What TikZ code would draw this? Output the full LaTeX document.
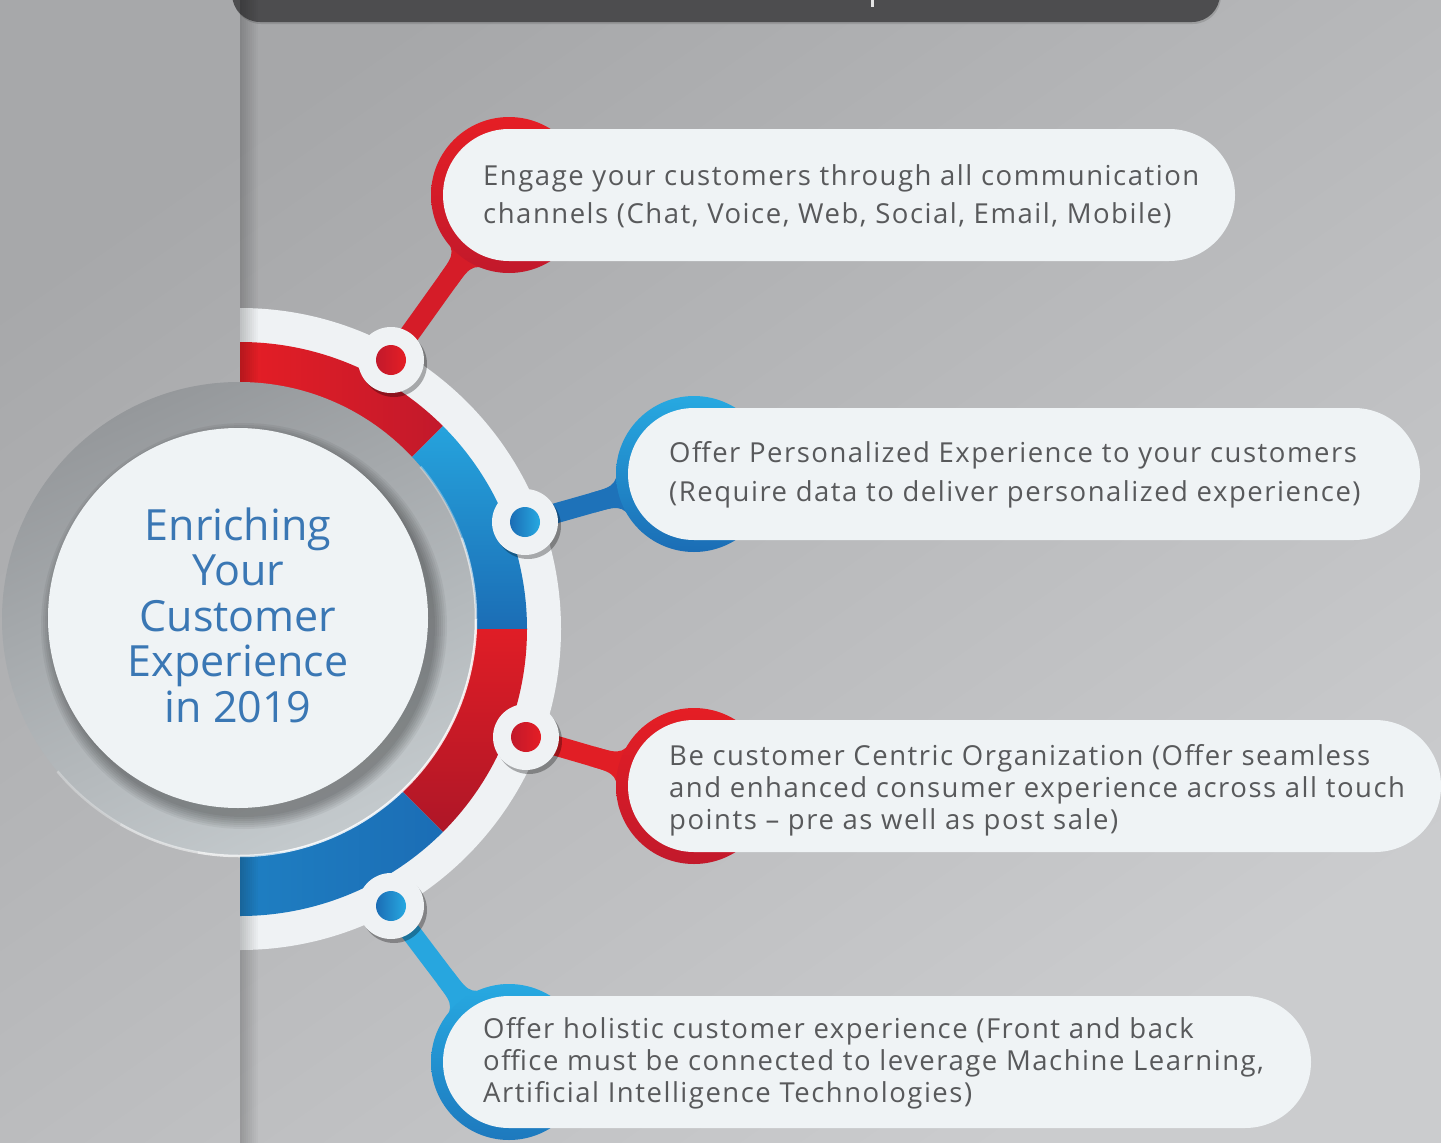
\documentclass[tikz,border=0pt]{standalone}
\usepackage{fontspec}
\setmainfont{Open Sans}
\newfontfamily\pillfont[LetterSpace=5.5]{Open Sans}
\usetikzlibrary{calc,shadows}

\definecolor{bgA}{HTML}{A6A7A9}
\definecolor{bgB}{HTML}{CBCCCE}
\definecolor{barcol}{HTML}{4D4D4F}
\definecolor{ringwhite}{HTML}{EFF2F4}
\definecolor{pillwhite}{HTML}{EFF3F5}
\definecolor{textgray}{HTML}{58595B}
\definecolor{titleblue}{HTML}{3A77B4}
\definecolor{redLight}{HTML}{E51E25}
\definecolor{redDark}{HTML}{C2192B}
\definecolor{redMid}{HTML}{D51C28}
\definecolor{blueLight}{HTML}{27A9E1}
\definecolor{blueDark}{HTML}{1B6DB5}
\definecolor{blueMid}{HTML}{1E72B9}
\definecolor{discDark}{HTML}{95989B}
\definecolor{discLight}{HTML}{C4CACD}
\definecolor{discFace}{HTML}{EFF3F5}

% thick arm from a dot to a coloured cap, with concave necks where it meets the cap
\newcommand\armlink[3]{%
  \draw[#3, line width=20pt] (#1) -- (#2);
  \fill[#3] ($(#1)!106pt!(#2)!10pt!90:(#2)$) .. controls ($(#1)!77pt!(#2)!10pt!90:(#2)$) .. ($(#1)!78pt!32:(#2)$) -- (#1) -- cycle;
  \fill[#3] ($(#1)!106pt!(#2)!10pt!-90:(#2)$) .. controls ($(#1)!77pt!(#2)!10pt!-90:(#2)$) .. ($(#1)!78pt!-32:(#2)$) -- (#1) -- cycle;
}

\begin{document}
\begin{tikzpicture}[x=1pt,y=1pt,
  pill/.style={fill=pillwhite, rounded corners=66},
  pilltext/.style={anchor=west, align=left, inner sep=0pt, text=textgray},
  holder/.style={fill=ringwhite, drop shadow={shadow xshift=3pt, shadow yshift=-4pt, opacity=0.3, fill=black}},
]
\useasboundingbox (0,0) rectangle (1441,-1143);

% backdrop
\shade[top color=bgA, bottom color=bgB, shading angle=35] (0,0) rectangle (1441,-1143);
\fill[white, fill opacity=0.02] (0,0) rectangle (240,-1143);

% header bar
\fill[black, fill opacity=0.12, rounded corners=28] (233,40) rectangle (1221,-24);
\fill[barcol, rounded corners=28] (232,40) rectangle (1220,-22);
\fill[white!85!barcol] (870.5,0) rectangle (873.5,-7);

% segmented ring
\coordinate (C) at (240,-629);
\begin{scope}
  \clip (240,0) rectangle (1441,-1143);
  \fill[ringwhite] (C) circle (321);
  \shade[left color=redLight, right color=redDark] (C) -- ++(90:287) arc[start angle=90, end angle=45, radius=287] -- cycle;
  \shade[top color=blueLight!90!blueDark, bottom color=blueDark] (C) -- ++(45:287) arc[start angle=45, end angle=0, radius=287] -- cycle;
  \shade[top color=redLight!85!redDark, bottom color=redDark!90!black] (C) -- ++(0:287) arc[start angle=0, end angle=-45, radius=287] -- cycle;
  \shade[left color=blueDark!70!blueLight, right color=blueDark] (C) -- ++(-45:287) arc[start angle=-45, end angle=-90, radius=287] -- cycle;
\end{scope}

% anchor points
\coordinate (d1) at (391,-360);
\coordinate (d2) at (525,-522);
\coordinate (d3) at (526,-737);
\coordinate (d4) at (391,-906);
\coordinate (b1) at (509,-195);
\coordinate (b2) at (694,-474);
\coordinate (b3) at (694,-786);
\coordinate (b4) at (509,-1062);

% arms
\armlink{b1}{d1}{redMid}
\armlink{b2}{d2}{blueMid}
\armlink{b3}{d3}{redLight!90!redDark}
\armlink{b4}{d4}{blueLight!95!blueDark}

% caps
\shade[top color=redLight, bottom color=redDark] (b1) circle (78);
\shade[top color=blueLight, bottom color=blueDark] (b2) circle (78);
\shade[top color=redLight, bottom color=redDark] (b3) circle (78);
\shade[top color=blueLight, bottom color=blueDark!80!blueLight] (b4) circle (78);

% text pills
\fill[pill] (443,-129) rectangle (1235,-261);
\fill[pill] (628,-408) rectangle (1420,-540);
\fill[pill] (628,-720) rectangle (1441,-852);
\fill[pill] (443,-996) rectangle (1311,-1128);

\node[pilltext, font=\pillfont\fontsize{27.5}{38}\selectfont] (t1) at (483,-196)
  {Engage your customers through all communication\\channels (Chat, Voice, Web, Social, Email, Mobile)};
\node[pilltext, font=\pillfont\fontsize{27.5}{39}\selectfont] (t2) at (669,-475)
  {Offer Personalized Experience to your customers\\(Require data to deliver personalized experience)};
\node[pilltext, font=\pillfont\fontsize{27.5}{32}\selectfont] (t3) at (669,-790)
  {Be customer Centric Organization (Offer seamless\\and enhanced consumer experience across all touch\\points – pre as well as post sale)};
\node[pilltext, font=\pillfont\fontsize{27.5}{32}\selectfont] (t4) at (483,-1063)
  {Offer holistic customer experience (Front and back\\office must be connected to leverage Machine Learning,\\Artificial Intelligence Technologies)};

% dot holders on the ring
\foreach \p in {d1,d2,d3,d4} \fill[holder] (\p) circle (33);
\shade[left color=redDark, right color=redLight] (d1) circle (15);
\shade[left color=blueDark, right color=blueLight] (d2) circle (15);
\shade[left color=redDark, right color=redLight] (d3) circle (15);
\shade[left color=blueDark, right color=blueLight] (d4) circle (15);

% fold shadow along the panel edge
\foreach \i in {0,...,8}
  \fill[black, fill opacity={0.2*(1-\i/9)}] (240+2*\i,0) rectangle (242+2*\i,-1143);

% central disc
\coordinate (G) at (239,-619);
\shade[top color=discDark, bottom color=discLight, shading angle=25] (G) circle (237);
\foreach \a/\o in {40/0.3,20/0.6,0/0.85,-20/0.85,-40/0.85,-60/0.85,-80/0.7,-100/0.5,-120/0.3}
  \draw[white, line width=2.5pt, opacity=\o] (G) ++(\a:237) arc[start angle=\a, end angle=\a-20, radius=237];
\foreach \k in {1,...,7}
  \fill[black, fill opacity=0.05] ($(G)+(5,-7)$) circle (189+2*\k);
\fill[discFace] (238,-618) circle (190);
\node[font=\fontsize{43}{45.5}\selectfont, text=titleblue, align=center, inner sep=0pt] (title) at (238,-615)
  {Enriching\\Your\\Customer\\Experience\\in 2019};
\end{tikzpicture}
\end{document}
